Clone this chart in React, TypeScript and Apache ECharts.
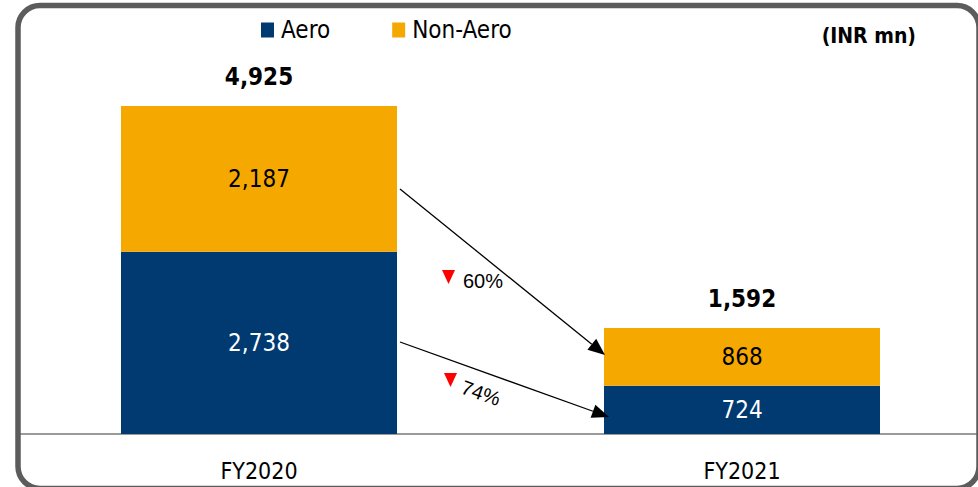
import React, { useEffect, useRef } from "react";
import * as echarts from "echarts";

const categories = ["FY2020", "FY2021"];
const aeroValues = [2738, 724];
const nonAeroValues = [2187, 868];
const totalValues = [4925, 1592];
const declineLabels = ["60%", "74%"];
const unitLabel = "(INR mn)";

const FONT = "'Liberation Sans Narrow', 'DejaVu Sans Condensed', 'Liberation Sans', sans-serif";
const ARIAL = "'Liberation Sans', Arial, sans-serif";
const NAVY = "#003a70";
const ORANGE = "#f5a800";

function fmt(v: number) {
  return v.toLocaleString("en-US");
}

function arrow(x1: number, y1: number, x2: number, y2: number, headLen = 17, headHalf = 7) {
  const dx = x2 - x1;
  const dy = y2 - y1;
  const len = Math.hypot(dx, dy);
  const ux = dx / len;
  const uy = dy / len;
  const bx = x2 - ux * headLen;
  const by = y2 - uy * headLen;
  const px = -uy;
  const py = ux;
  return [
    { type: "line", shape: { x1, y1, x2: bx, y2: by }, style: { stroke: "#000", lineWidth: 1.3 }, z: 10 },
    {
      type: "polygon",
      shape: {
        points: [
          [x2, y2],
          [bx + px * headHalf, by + py * headHalf],
          [bx - px * headHalf, by - py * headHalf],
        ],
      },
      style: { fill: "#000" },
      z: 10,
    },
  ];
}

function downTriangle(cx: number, top: number, w = 13, h = 14) {
  return {
    type: "polygon",
    shape: { points: [[cx - w / 2, top], [cx + w / 2, top], [cx, top + h]] },
    style: { fill: "#ff0000" },
    z: 10,
  };
}

export default function App() {
  const ref = useRef<HTMLDivElement>(null);

  useEffect(() => {
    if (!ref.current) return;
    const chart = echarts.init(ref.current, undefined, { renderer: "svg" });
    const option: any = {
      animation: false,
      backgroundColor: "#ffffff",
      legend: {
        data: ["Aero", "Non-Aero"],
        left: 256,
        top: 13,
        icon: "rect",
        itemWidth: 13,
        itemHeight: 15,
        itemGap: 62,
        textStyle: { fontFamily: FONT, fontSize: 24, color: "#000", padding: [0, 0, 0, 2] },
      },
      grid: { left: 17.5, width: 966, top: 34.4, bottom: 53 },
      xAxis: {
        type: "category",
        data: categories,
        axisLine: { show: true, lineStyle: { color: "#9a9a9a", width: 2 } },
        axisTick: { show: false },
        axisLabel: { fontFamily: FONT, fontSize: 23, color: "#000", margin: 25 },
      },
      yAxis: { type: "value", min: 0, max: 6000, show: false, splitLine: { show: false } },
      series: [
        {
          name: "Aero",
          type: "bar",
          stack: "t",
          barWidth: 276,
          data: aeroValues,
          itemStyle: { color: NAVY },
          label: {
            show: true,
            position: "inside",
            color: "#fff",
            fontFamily: FONT,
            fontSize: 24,
            formatter: (p: any) => fmt(p.value),
          },
        },
        {
          name: "Non-Aero",
          type: "bar",
          stack: "t",
          barWidth: 276,
          data: nonAeroValues,
          itemStyle: { color: ORANGE },
          label: {
            show: true,
            position: "inside",
            color: "#000",
            fontFamily: FONT,
            fontSize: 24,
            formatter: (p: any) => fmt(p.value),
          },
        },
        {
          name: "Total",
          type: "bar",
          stack: "t",
          barWidth: 276,
          data: totalValues.map(() => 0),
          itemStyle: { color: "transparent" },
          label: {
            show: true,
            position: "top",
            distance: 17,
            color: "#000",
            fontWeight: "bold",
            fontFamily: FONT,
            fontSize: 24,
            formatter: (p: any) => fmt(totalValues[p.dataIndex]),
          },
        },
      ],
      graphic: [
        {
          type: "rect",
          shape: { x: 18, y: 5.5, width: 961, height: 483, r: 22 },
          style: { fill: "none", stroke: "#5c5c5c", lineWidth: 5.5 },
          z: 20,
        },
        {
          type: "text",
          x: 916,
          y: 36,
          style: {
            text: unitLabel,
            align: "right",
            verticalAlign: "middle",
            fontFamily: FONT,
            fontWeight: "bold",
            fontSize: 21,
            fill: "#000",
          },
        },
        ...arrow(400, 189, 605, 355),
        ...arrow(400, 342, 609, 417),
        downTriangle(448.5, 270),
        downTriangle(450.5, 373),
        {
          type: "text",
          x: 463,
          y: 281,
          style: {
            text: declineLabels[0],
            align: "left",
            verticalAlign: "middle",
            fontFamily: ARIAL,
            fontSize: 20,
            fill: "#000",
          },
          z: 10,
        },
        {
          type: "text",
          x: 481,
          y: 393,
          rotation: -0.34,
          style: {
            text: declineLabels[1],
            align: "center",
            verticalAlign: "middle",
            fontFamily: ARIAL,
            fontSize: 20,
            fill: "#000",
          },
          z: 10,
        },
      ],
    };
    chart.setOption(option);
    return () => chart.dispose();
  }, []);

  return (
    <div
      ref={ref}
      style={{ position: "fixed", left: 0, top: 0, width: 990, height: 487, background: "#fff" }}
    />
  );
}
